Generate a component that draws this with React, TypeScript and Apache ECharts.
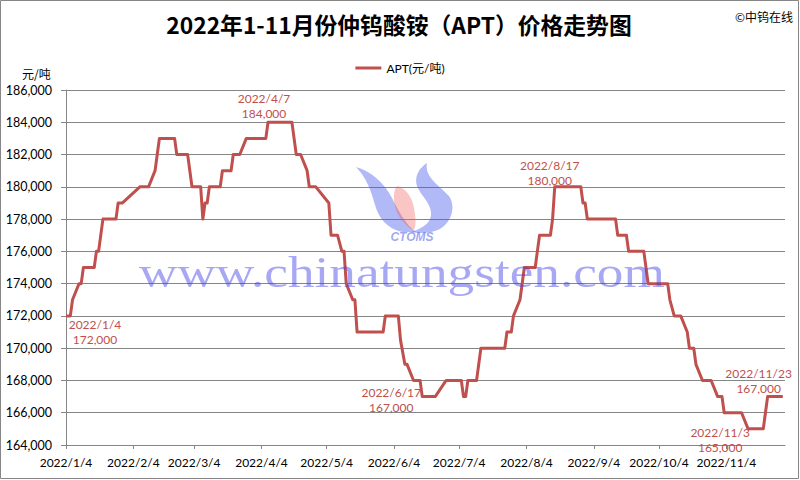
import React, { useEffect, useRef } from "react";
import * as echarts from "echarts";

// ---- data ----
const dates = [
  "2022/1/4", "2022/1/6", "2022/1/7", "2022/1/10", "2022/1/11", "2022/1/12", "2022/1/17", "2022/1/18",
  "2022/1/19", "2022/1/20", "2022/1/21", "2022/1/27", "2022/1/28", "2022/1/30", "2022/2/7", "2022/2/11",
  "2022/2/14", "2022/2/15", "2022/2/16", "2022/2/23", "2022/2/24", "2022/3/1", "2022/3/2", "2022/3/3",
  "2022/3/7", "2022/3/8", "2022/3/9", "2022/3/10", "2022/3/11", "2022/3/16", "2022/3/17", "2022/3/21",
  "2022/3/22", "2022/3/25", "2022/3/28", "2022/4/6", "2022/4/7", "2022/4/18", "2022/4/19", "2022/4/20",
  "2022/4/22", "2022/4/25", "2022/4/26", "2022/4/29", "2022/5/5", "2022/5/6", "2022/5/9", "2022/5/11",
  "2022/5/12", "2022/5/13", "2022/5/16", "2022/5/17", "2022/5/18", "2022/5/30", "2022/5/31", "2022/6/6",
  "2022/6/7", "2022/6/9", "2022/6/10", "2022/6/13", "2022/6/16", "2022/6/17", "2022/6/23", "2022/6/28",
  "2022/7/5", "2022/7/6", "2022/7/7", "2022/7/8", "2022/7/12", "2022/7/14", "2022/7/25", "2022/7/26",
  "2022/7/28", "2022/7/29", "2022/8/1", "2022/8/3", "2022/8/8", "2022/8/9", "2022/8/10", "2022/8/15",
  "2022/8/16", "2022/8/17", "2022/8/29", "2022/8/30", "2022/8/31", "2022/9/1", "2022/9/14", "2022/9/15",
  "2022/9/19", "2022/9/20", "2022/9/27", "2022/9/28", "2022/9/29", "2022/10/8", "2022/10/9", "2022/10/11",
  "2022/10/14", "2022/10/17", "2022/10/18", "2022/10/20", "2022/10/21", "2022/10/24", "2022/10/28", "2022/10/31",
  "2022/11/2", "2022/11/3", "2022/11/11", "2022/11/14", "2022/11/21", "2022/11/22", "2022/11/23", "2022/11/30",
];
const prices = [
  172000, 172000, 173000, 174000, 174000, 175000, 175000, 176000,
  176000, 177000, 178000, 178000, 179000, 179000, 180000, 180000,
  181000, 182000, 183000, 183000, 182000, 182000, 181000, 180000,
  180000, 178000, 179000, 179000, 180000, 180000, 181000, 181000,
  182000, 182000, 183000, 183000, 184000, 184000, 183000, 182000,
  182000, 181000, 180000, 180000, 179000, 177000, 177000, 176000,
  176000, 174000, 173000, 173000, 171000, 171000, 172000, 172000,
  170500, 169000, 169000, 168000, 168000, 167000, 167000, 168000,
  168000, 167000, 167000, 168000, 168000, 170000, 170000, 171000,
  171000, 172000, 173000, 175000, 175000, 176000, 177000, 177000,
  178000, 180000, 180000, 179000, 179000, 178000, 178000, 177000,
  177000, 176000, 176000, 175000, 174000, 174000, 173000, 172000,
  172000, 171000, 170000, 170000, 169000, 168000, 168000, 167000,
  167000, 166000, 166000, 165000, 165000, 166000, 167000, 167000,
];
const tickDates = [
  "2022/1/4", "2022/2/4", "2022/3/4", "2022/4/4", "2022/5/4", "2022/6/4",
  "2022/7/4", "2022/8/4", "2022/9/4", "2022/10/4", "2022/11/4",
];
const axisStart = "2022/1/4";
const axisEnd = "2022/12/1";
const yMin = 164000;
const yMax = 186000;
const yStep = 2000;

const annotDates = ["2022/1/4", "2022/4/7", "2022/6/17", "2022/8/17", "2022/11/3", "2022/11/23"];
const annotValues = [172000, 184000, 167000, 180000, 165000, 167000];

const titleText = "2022年1-11月份仲钨酸铵（APT）价格走势图";
const seriesName = "APT(元/吨)";
const unitText = "元/吨";
const sourceText = "©中钨在线";
const watermarkText = "www.chinatungsten.com";

// ---- layout / style constants ----
const annotOffsets: [number, number][] = [
  [29, 16], [-4, -16], [-31, 3], [-5, -14], [-4, 11], [-9, -16],
];
const RED = "#C0504D";
const GRID = "#868686";
const FONT = 'Lato, "Noto Sans CJK SC", sans-serif';

const DAY = 86400000;
const toDate = (s: string) => {
  const [y, m, d] = s.split("/").map(Number);
  return Date.UTC(y, m - 1, d);
};
const origin = toDate(axisStart);
// day offset from the first date: position on a linear day scale
const dayOf = (s: string) => Math.round((toDate(s) - origin) / DAY);
const dayLabel = (v: number) => {
  const dt = new Date(origin + Math.round(v) * DAY);
  return `${dt.getUTCFullYear()}/${dt.getUTCMonth() + 1}/${dt.getUTCDate()}`;
};
const fmtNum = (v: number) => v.toLocaleString("en-US");

const LEFT_SWOOSH =
  "M356,167 C370,171 384,182 392,198 C399,212 406,225 416,232 L402,232 C388,229 379,219 375,205 C371,190 366,177 356,167 Z";
const PINK_SWOOSH =
  "M397,186 C405,188 412,196 414,208 C416,219 416,226 414,230 C408,228 400,220 396,210 C393,201 393,191 397,186 Z";
const RIGHT_SWOOSH =
  "M427,163 C424,177 440,186 449,196 C456,206 452,222 440,229 C432,233 420,234 411,232 C424,228 432,222 431,212 C430,202 421,196 417,186 C414,177 419,168 427,163 Z";

let registered = false;
function registerShapes() {
  if (registered) return;
  registered = true;
  echarts.graphic.registerShape("ctomsLeft", echarts.graphic.extendPath(LEFT_SWOOSH, {}) as any);
  echarts.graphic.registerShape("ctomsPink", echarts.graphic.extendPath(PINK_SWOOSH, {}) as any);
  echarts.graphic.registerShape("ctomsRight", echarts.graphic.extendPath(RIGHT_SWOOSH, {}) as any);
}

export default function App() {
  const ref = useRef<HTMLDivElement>(null);

  useEffect(() => {
    if (!ref.current) return;
    registerShapes();
    const chart = echarts.init(ref.current, null, { renderer: "svg" });
    const data = dates.map((d, i) => [dayOf(d), prices[i]]);
    const ticks = tickDates.map(dayOf);

    const option: any = {
      animation: false,
      backgroundColor: "#ffffff",
      grid: { left: 66, right: 15, top: 90, bottom: 35, containLabel: false },
      legend: {
        show: true,
        left: "center",
        top: 57,
        icon: "rect",
        itemWidth: 26,
        itemHeight: 3,
        itemGap: 10,
        textStyle: { color: "#000", fontSize: 12, fontFamily: FONT },
        data: [seriesName],
      },
      xAxis: {
        type: "value",
        min: dayOf(axisStart),
        max: dayOf(axisEnd),
        axisLine: { show: true, lineStyle: { color: GRID, width: 1 } },
        axisTick: { show: true, customValues: ticks, length: 4, lineStyle: { color: GRID } },
        axisLabel: {
          customValues: ticks,
          formatter: (v: number) => dayLabel(v),
          color: "#000",
          fontSize: 12,
          fontFamily: FONT,
          margin: 11,
        },
        splitLine: { show: false },
      },
      yAxis: {
        type: "value",
        min: yMin,
        max: yMax,
        interval: yStep,
        axisLine: { show: true, lineStyle: { color: GRID, width: 1 } },
        axisTick: { show: true, length: 5, lineStyle: { color: GRID } },
        axisLabel: {
          formatter: (v: number) => fmtNum(v),
          color: "#000",
          fontSize: 12.5,
          fontFamily: FONT,
          margin: 14,
        },
        splitLine: { show: true, lineStyle: { color: GRID, width: 1 } },
      },
      series: [
        {
          type: "line",
          name: seriesName,
          data,
          showSymbol: false,
          symbol: "none",
          lineStyle: { color: RED, width: 3, join: "round" },
          itemStyle: { color: RED },
          z: 3,
          markPoint: {
            symbol: "circle",
            symbolSize: 1,
            itemStyle: { color: "rgba(0,0,0,0)" },
            data: annotDates.map((d, i) => ({
              coord: [dayOf(d), annotValues[i]],
              label: {
                show: true,
                position: "inside",
                offset: annotOffsets[i],
                formatter: `${d}\n${fmtNum(annotValues[i])}`,
                color: RED,
                fontSize: 12,
                lineHeight: 15,
                fontFamily: FONT,
                align: "center",
              },
            })),
          },
        },
      ],
      graphic: [
        {
          type: "rect",
          shape: { x: 0.5, y: 0.5, width: 798, height: 478 },
          style: { fill: "none", stroke: GRID, lineWidth: 1 },
          z: 0,
        },
        {
          type: "text",
          x: 399,
          y: 24,
          style: {
            text: titleText,
            fill: "#000",
            font: 'bold 22.8px "Noto Sans CJK SC", sans-serif',
            textAlign: "center",
            textVerticalAlign: "middle",
          },
        },
        {
          type: "text",
          x: 793,
          y: 16,
          style: {
            text: sourceText,
            fill: "#000",
            font: '12px "Noto Sans CJK SC", sans-serif',
            textAlign: "right",
            textVerticalAlign: "middle",
          },
        },
        {
          type: "text",
          x: 22,
          y: 73,
          style: {
            text: unitText,
            fill: "#000",
            font: '12px "Noto Sans CJK SC", sans-serif',
            textAlign: "left",
            textVerticalAlign: "middle",
          },
        },
        {
          type: "text",
          x: 402,
          y: 272,
          scaleX: 1.21,
          z: 100,
          style: {
            text: watermarkText,
            fill: "rgba(60,60,230,0.45)",
            font: '44px "Liberation Serif", serif',
            textAlign: "center",
            textVerticalAlign: "middle",
          },
        },
        { type: "ctomsLeft", z: 100, style: { fill: "rgba(70,90,235,0.42)" } },
        { type: "ctomsPink", z: 100, style: { fill: "rgba(240,90,90,0.35)" } },
        { type: "ctomsRight", z: 100, style: { fill: "rgba(70,90,235,0.42)" } },
        {
          type: "text",
          x: 412,
          y: 237,
          z: 100,
          style: {
            text: "CTOMS",
            fill: "rgba(60,80,230,0.5)",
            font: 'italic bold 12px "Liberation Sans", sans-serif',
            textAlign: "center",
            textVerticalAlign: "middle",
          },
        },
      ],
    };
    chart.setOption(option);
    return () => chart.dispose();
  }, []);

  return (
    <div
      ref={ref}
      style={{ position: "absolute", left: 0, top: 0, width: 800, height: 480, background: "#fff" }}
    />
  );
}
